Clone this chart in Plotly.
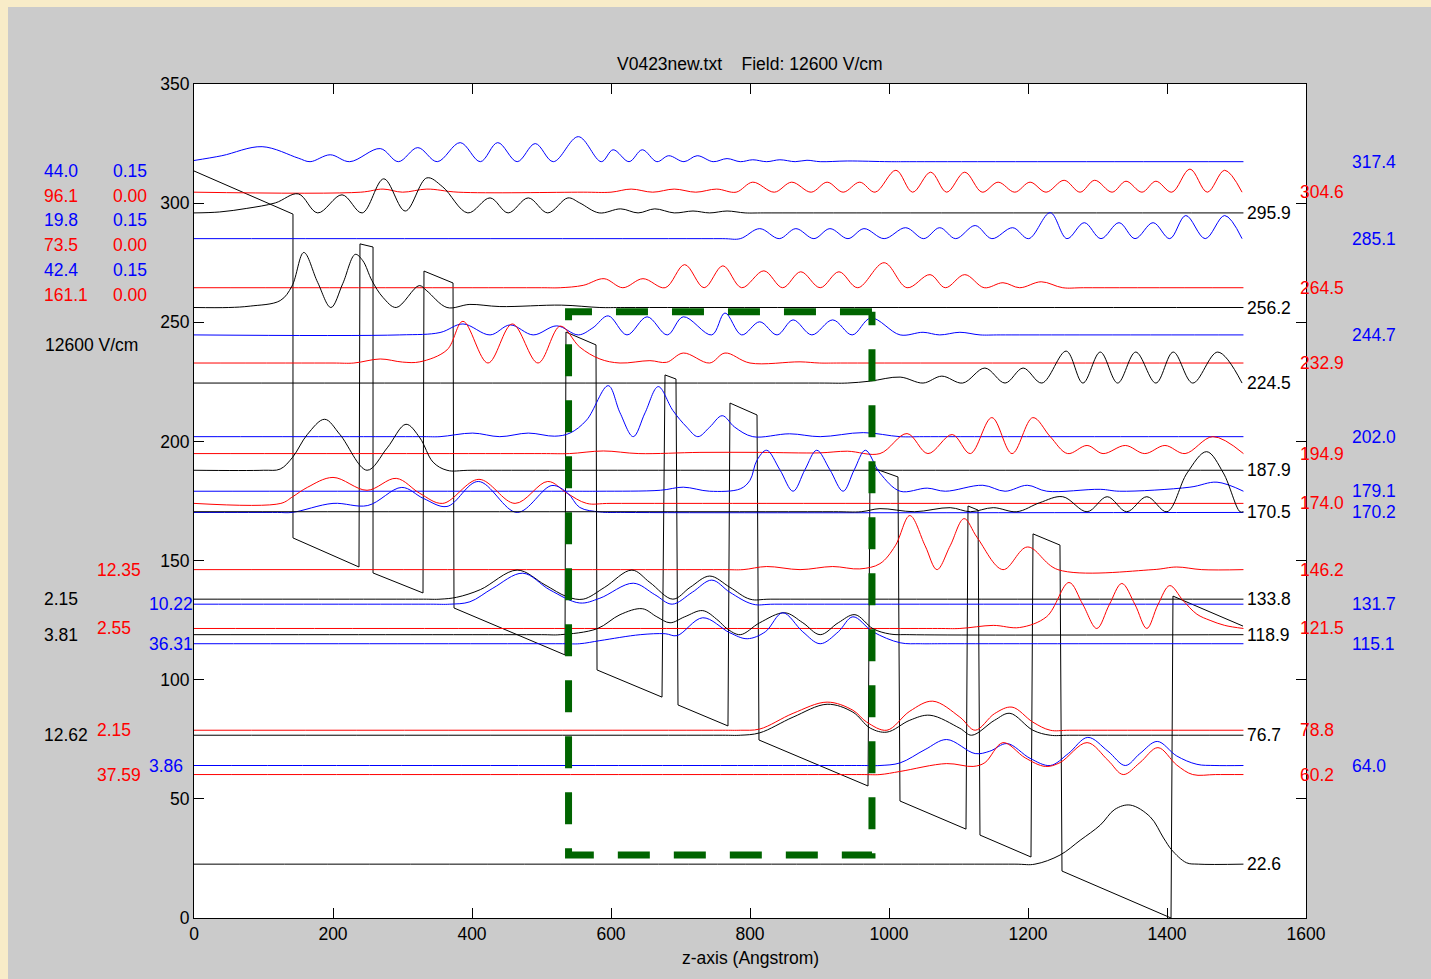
import plotly.graph_objects as go

# ---------------- data ----------------
# conduction band edge (z in Angstrom, energy in meV)
band_z = [0, 142.4, 142.4, 237.4, 238.8, 257.6, 257.6, 329.5, 330.9, 372.7, 374.1, 533.8, 535.2, 578.4,
          579.9, 673.4, 677.7, 693.5, 696.4, 768.3, 771.2, 810.1, 812.9, 969.8, 972.7, 1012.9, 1015.8,
          1110.8, 1113.7, 1128.1, 1130.9, 1204.3, 1207.2, 1246.0, 1248.9, 1405.8, 1408.6, 1509.4]
band_e = [313.5, 295.4, 159.5, 147.3, 282.9, 281.6, 144.8, 136.4, 271.5, 266.5, 130.1, 110.4, 245.9, 240.5,
          104.1, 92.7, 227.9, 226.2, 89.4, 80.6, 216.1, 211.1, 74.7, 55.4, 189.3, 185.1, 49.1,
          37.3, 172.9, 171.2, 34.8, 25.6, 161.2, 156.5, 19.7, 0.0, 135.1, 122.5]

# energy levels (meV)
black_levels = [295.9, 256.2, 224.5, 187.9, 170.5, 133.8, 118.9, 76.7, 22.6]
red_levels = [304.6, 264.5, 232.9, 194.9, 174.0, 146.2, 121.5, 78.8, 60.2]
blue_levels = [317.4, 285.1, 244.7, 202.0, 179.1, 170.2, 131.7, 115.1, 64.0]

# |psi|^2 traces: z points (Angstrom) and height above the level (meV)
z_b3174 = [0, 40, 98, 150, 167, 196, 224, 268, 294, 322, 350, 383, 412, 437, 465, 491, 517, 553, 586, 603,
           626, 645, 666, 683, 705, 724, 747, 767, 786, 804, 824, 843, 865, 882, 901, 940, 1000, 1030, 1510]
p_b3174 = [0.5, 2.5, 6.3, 1.5, 0, 2.9, 0, 5.5, 0, 5.9, 0, 8.0, 0, 8.0, 0, 7.6, 0, 10.5, 0, 5.0,
           0, 5.0, 0, 2.5, 0, 2.5, 0, 1.3, 0, 0.8, 0, 0.8, 0, 0.6, 0, 0.3, 0, 0, 0]

z_r3046 = [0, 240, 272, 300, 335, 380, 560, 600, 629, 660, 691, 722, 752, 780, 804, 835, 860, 888, 911, 934,
           958, 980, 1010, 1034, 1060, 1083, 1109, 1134, 1157, 1181, 1203, 1226, 1252, 1275, 1296, 1321,
           1341, 1364, 1384, 1407, 1433, 1458, 1483, 1508]
p_r3046 = [0, 0, 1.3, 0, 1.3, 0, 0, 0, 1.3, 0, 1.3, 0, 1.3, 0, 4.2, 0, 4.2, 0, 4.2, 0,
           4.2, 0, 9.2, 0, 8.4, 0, 8.4, 0, 4.2, 0, 4.2, 0, 5.0, 0, 5.0, 0,
           4.6, 0, 4.6, 0, 9.7, 0, 9.2, 0]

z_k2959 = [0, 37, 76, 117, 150, 178, 213, 242, 273, 304, 335, 358, 394, 426, 452, 481, 509, 538, 555, 583,
           614, 639, 663, 691, 718, 742, 767, 793, 820, 1510]
p_k2959 = [0, 0.4, 1.9, 4.2, 8.0, 0, 7.6, 0, 14.3, 0.8, 14.7, 10.9, 0, 6.3, 0, 6.3, 0, 6.3, 4.2, 0,
           1.7, 0, 1.7, 0, 0.8, 0, 0.8, 0, 0, 0]

z_b2851 = [0, 760, 786, 814, 842, 866, 892, 915, 941, 964, 993, 1024, 1050, 1073, 1096, 1124, 1148, 1178, 1201,
           1232, 1256, 1281, 1305, 1331, 1354, 1380, 1404, 1427, 1455, 1483, 1508]
p_b2851 = [0, 0, 0, 4.2, 0, 4.2, 0, 4.2, 0, 4.2, 0, 4.6, 0, 4.6, 0, 5.5, 0, 4.6, 0,
           10.9, 0, 6.7, 0, 6.7, 0, 6.7, 0, 9.7, 0, 9.7, 0]

z_r2645 = [0, 500, 527, 560, 590, 617, 646, 678, 706, 734, 761, 788, 820, 847, 873, 901, 928, 955, 993, 1026,
           1059, 1081, 1109, 1137, 1164, 1188, 1219, 1250, 1280, 1510]
p_r2645 = [0, 0, 0, 1.0, 3.8, 0, 3.8, 0, 9.7, 0, 9.2, 0, 7.1, 0, 6.7, 0, 6.7, 0, 10.5, 0,
           5.5, 0, 5.5, 0, 2.1, 0, 2.5, 0, 0, 0]

z_k2562 = [0, 50, 81, 124, 141, 158, 178, 197, 214, 232, 243, 256, 272, 291, 324, 335, 364, 397, 440, 529,
           584, 620, 1510]
p_k2562 = [0, 0, 0.6, 2.9, 9.0, 23.1, 10.5, 0, 10.0, 22.3, 19.6, 11.3, 4.2, 0, 9.2, 7.0, 0, 1.3, 0.4, 1.0,
           0, 0, 0]

z_b2447 = [0, 296, 354, 387, 426, 455, 488, 522, 553, 574, 596, 623, 652, 681, 704, 745, 764, 788, 814, 839,
           862, 889, 919, 947, 974, 1016, 1049, 1073, 1102, 1131, 1160, 1510]
p_b2447 = [0, 0, 1.0, 4.6, 0, 4.2, 0, 3.8, 0, 3.0, 8.0, 0, 7.6, 0, 7.6, 0, 9.2, 0, 5.5, 0,
           6.3, 0, 6.3, 0, 7.1, 0, 1.1, 0, 1.1, 0, 0, 0]

z_r2329 = [0, 200, 230, 268, 300, 325, 364, 387, 423, 458, 495, 527, 555, 584, 613, 656, 680, 704, 742, 764,
           800, 872, 900, 930, 1510]
p_r2329 = [0, 0, 0, 1.7, 0.4, 0.5, 5.5, 17.5, 0, 16.4, 0, 15.5, 6.7, 1.7, 0, 1.0, 0.3, 4.2, 0, 4.2,
           0, 0.5, 0, 0, 0]

z_k2245 = [0, 900, 940, 973, 1016, 1049, 1076, 1106, 1138, 1167, 1193, 1220, 1255, 1279, 1304, 1329, 1355,
           1384, 1409, 1437, 1473, 1508]
p_k2245 = [0, 0, 0, 0.8, 2.5, 0, 2.9, 0, 6.3, 0, 6.3, 0, 13.4, 0, 13.0, 0, 13.0,
           0, 13.0, 0, 13.0, 0]

z_b2020 = [0, 330, 354, 401, 440, 481, 519, 541, 565, 596, 613, 632, 649, 668, 689, 709, 725, 742, 760, 778,
           804, 857, 901, 963, 1016, 1050, 1510]
p_b2020 = [0, 0, 0, 1.5, 0, 1.5, 0.2, 1.5, 7.0, 21.4, 10.0, 0, 10.0, 21.0, 11.0, 4.0, 0, 4.0, 8.8, 4.0,
           0, 1.2, 0, 1.7, 0, 0, 0]

z_r1949 = [0, 500, 540, 589, 640, 728, 814, 900, 940, 987, 1026, 1056, 1091, 1117, 1148, 1177, 1207, 1232,
           1257, 1285, 1308, 1340, 1368, 1397, 1426, 1466, 1510]
p_r1949 = [0, 0, 0, 1.1, 0, 0.5, 0.5, 0.3, 1.0, 0, 8.4, 0, 8.0, 0, 15.1, 0, 15.1, 7.1,
           0, 3.4, 0, 3.4, 0, 3.4, 0, 7.1, 0]

z_k1879 = [0, 100, 124, 142, 163, 188, 210, 249, 278, 305, 325, 344, 364, 400, 1510]
p_k1879 = [0, 0, 0.5, 5.5, 15.0, 21.4, 15.0, 0, 9.4, 19.3, 13.6, 3.4, 0, 0, 0]

z_b1791 = [0, 540, 584, 671, 704, 742, 786, 800, 810, 824, 843, 862, 879, 896, 915, 934, 950, 966, 987, 1016,
           1055, 1081, 1135, 1167, 1199, 1227, 1304, 1332, 1433, 1472, 1510]
p_b1791 = [0, 0, 0, 0.4, 1.7, 0, 1.0, 4.6, 13.0, 17.2, 9.0, 0, 9.0, 17.2, 9.0, 0, 9.0, 17.2, 7.6, 0,
           1.3, 0, 2.5, 0, 2.5, 0, 0.8, 0, 1.7, 3.8, 0]

z_r1740 = [0, 125, 142, 163, 200, 249, 291, 325, 358, 410, 462, 509, 537, 565, 600, 1510]
p_r1740 = [0, 0, 2.8, 6.7, 10.9, 5.5, 10.5, 4.2, 0, 10.1, 0, 9.2, 4.2, 0, 0, 0]

z_k1705 = [0, 920, 960, 987, 1037, 1088, 1117, 1150, 1184, 1217, 1250, 1285, 1314, 1342, 1371, 1400, 1429,
           1457, 1481, 1505, 1510]
p_k1705 = [0, 0, 0, 1.3, 0, 1.7, 0, 1.7, 0, 3.8, 6.3, 0, 6.3, 0, 6.3, 0, 16.3,
           25.2, 16.3, 0, 0]

z_b1702 = [0, 120, 141, 200, 250, 299, 330, 364, 409, 465, 515, 538, 555, 584, 620, 1510]
p_b1702 = [0, 0, 0, 3.8, 2.9, 10.5, 5.9, 2.5, 13.0, 0, 11.3, 8.0, 2.1, 0.2, 0, 0]

z_r1462 = [0, 760, 790, 824, 872, 919, 958, 987, 1009, 1030, 1052, 1069, 1088, 1108, 1127, 1164, 1199, 1243,
           1380, 1414, 1450, 1510]
p_r1462 = [0, 0, 0, 1.3, 0, 1.3, 0.3, 2.5, 10.0, 22.7, 10.0, 0, 10.0, 21.4, 13.4, 0, 9.5, 0,
           0, 1.1, 0, 0]

z_k1338 = [0, 330, 354, 378, 412, 465, 505, 537, 560, 591, 630, 656, 689, 714, 742, 771, 800, 830, 1510]
p_k1338 = [0, 0, 0, 0.8, 4.0, 12.2, 6.0, 1.0, 0, 5.0, 12.2, 7.0, 0, 5.0, 9.7, 5.0, 0, 0, 0]

z_b1317 = [0, 340, 368, 397, 430, 473, 512, 555, 584, 632, 663, 688, 717, 745, 771, 804, 835, 1510]
p_b1317 = [0, 0, 0, 1.0, 6.7, 13.0, 6.0, 0.5, 2.5, 8.8, 4.0, 0, 5.0, 10.1, 5.0, 0, 0, 0]

z_r1215 = [0, 1070, 1102, 1150, 1188, 1227, 1259, 1279, 1299, 1317, 1335, 1354, 1371, 1387, 1404, 1423, 1443,
           1462, 1483, 1510]
p_r1215 = [0, 0, 0, 1.3, 0.4, 5.0, 19.3, 10.0, 0, 10.0, 18.9, 10.0, 0, 10.0, 18.0, 11.8, 6.0,
           3.4, 1.3, 0]

z_k1189 = [0, 500, 527, 580, 613, 645, 666, 685, 706, 732, 754, 767, 786, 814, 850, 876, 901, 927, 951, 977,
           1001, 1030, 1510]
p_k1189 = [0, 0, 0, 2.5, 8.4, 10.9, 7.5, 5.0, 7.5, 10.1, 6.0, 2.5, 0, 5.0, 9.2, 5.0, 0, 5.0, 8.4, 2.5,
           0.3, 0, 0]

z_b1151 = [0, 530, 555, 584, 642, 678, 695, 732, 771, 796, 822, 847, 876, 901, 927, 948, 977, 1016, 1045,
           1075, 1510]
p_b1151 = [0, 0, 0, 1.3, 3.8, 4.2, 3.4, 10.9, 4.6, 2.1, 5.0, 13.0, 5.0, 0, 5.0, 11.3, 5.0, 0.4, 0,
           0, 0]

z_r788 = [0, 760, 786, 814, 862, 911, 948, 968, 997, 1030, 1063, 1102, 1124, 1152, 1177, 1207, 1232, 1260, 1510]
p_r788 = [0, 0, 0, 0.5, 7.1, 11.8, 8.4, 3.4, 0, 8.0, 12.2, 5.5, 0, 7.0, 9.7, 3.4, 0, 0, 0]

z_k767 = [0, 760, 786, 814, 862, 911, 948, 973, 997, 1030, 1059, 1102, 1119, 1152, 1174, 1207, 1232, 1260, 1510]
p_k767 = [0, 0, 0, 1.0, 7.6, 13.0, 9.7, 3.0, 1.3, 6.3, 8.4, 2.9, 0, 6.3, 9.2, 2.1, 0, 0, 0]

z_b640 = [0, 960, 987, 1016, 1052, 1083, 1124, 1145, 1170, 1203, 1232, 1258, 1286, 1315, 1340, 1361, 1386,
          1414, 1443, 1469, 1510]
p_b640 = [0, 0, 0, 1.1, 6.7, 10.9, 5.0, 6.0, 9.2, 3.0, 0, 5.0, 11.8, 6.0, 0, 5.0, 10.1,
          4.0, 0.5, 0, 0]

z_r602 = [0, 960, 987, 1016, 1083, 1121, 1138, 1164, 1196, 1225, 1246, 1285, 1315, 1337, 1361, 1387, 1414,
          1437, 1470, 1510]
p_r602 = [0, 0, 0, 1.3, 4.6, 3.4, 5.0, 13.4, 7.0, 3.4, 5.0, 13.4, 6.0, 0, 5.0, 11.3, 4.0,
          0, 0, 0]

z_k226 = [0, 1180, 1210, 1246, 1275, 1304, 1325, 1347, 1376, 1395, 1407, 1428, 1445, 1510]
p_k226 = [0, 0, 0, 3.8, 10.0, 16.4, 23.0, 24.8, 19.8, 11.0, 5.9, 0.6, 0, 0]

# green highlight box (Angstrom, meV)
box_z = [538.9, 975.5]
box_e = [26.4, 254.4]

# side annotations
tbl_col1 = [44.0, 96.1, 19.8, 73.5, 42.4, 161.1]
tbl_col2 = [0.15, 0.00, 0.15, 0.00, 0.15, 0.00]
tbl_color = ["blue", "red", "blue", "red", "blue", "red"]
field_label = "12600 V/cm"

black_left_levels = [133.8, 118.9, 76.7]
black_left_vals = [2.15, 3.81, 12.62]
red_left_levels = [146.2, 121.5, 78.8, 60.2]
red_left_vals = [12.35, 2.55, 2.15, 37.59]
blue_left_levels = [131.7, 115.1, 64.0]
blue_left_vals = [10.22, 36.31, 3.86]

x_ticks = [0, 200, 400, 600, 800, 1000, 1200, 1400, 1600]
y_ticks = [0, 50, 100, 150, 200, 250, 300, 350]
title_text = "V0423new.txt\u00a0\u00a0\u00a0\u00a0Field: 12600 V/cm"
xlabel = "z-axis (Angstrom)"

# ---------------- figure ----------------
W, H = 1431, 979
L, R, T, B = 194, 125, 84, 61
PW, PH = W - L - R, H - T - B
FONT = "Liberation Sans, Arial, sans-serif"
FS = 17.5
COL = {"black": "#000000", "red": "#ff0000", "blue": "#0000ff"}


def px_x(px):
    return (px - L) / PW


def px_y(py):
    return (H - B - py) / PH


fig = go.Figure()

fig.add_trace(go.Scatter(x=band_z, y=band_e, mode="lines",
                         line=dict(color="#000000", width=1), hoverinfo="skip", showlegend=False))

states = [
    ("blue", 317.4, z_b3174, p_b3174), ("red", 304.6, z_r3046, p_r3046), ("black", 295.9, z_k2959, p_k2959),
    ("blue", 285.1, z_b2851, p_b2851), ("red", 264.5, z_r2645, p_r2645), ("black", 256.2, z_k2562, p_k2562),
    ("blue", 244.7, z_b2447, p_b2447), ("red", 232.9, z_r2329, p_r2329), ("black", 224.5, z_k2245, p_k2245),
    ("blue", 202.0, z_b2020, p_b2020), ("red", 194.9, z_r1949, p_r1949), ("black", 187.9, z_k1879, p_k1879),
    ("blue", 179.1, z_b1791, p_b1791), ("red", 174.0, z_r1740, p_r1740), ("blue", 170.2, z_b1702, p_b1702),
    ("black", 170.5, z_k1705, p_k1705),
    ("red", 146.2, z_r1462, p_r1462), ("black", 133.8, z_k1338, p_k1338), ("blue", 131.7, z_b1317, p_b1317),
    ("red", 121.5, z_r1215, p_r1215), ("black", 118.9, z_k1189, p_k1189), ("blue", 115.1, z_b1151, p_b1151),
    ("red", 78.8, z_r788, p_r788), ("black", 76.7, z_k767, p_k767), ("blue", 64.0, z_b640, p_b640),
    ("red", 60.2, z_r602, p_r602), ("black", 22.6, z_k226, p_k226),
]
for color, lev, zs, ps in states:
    fig.add_trace(go.Scatter(x=zs, y=[lev + v for v in ps], mode="lines",
                             line=dict(color=COL[color], width=1, shape="spline", smoothing=1.0),
                             hoverinfo="skip", showlegend=False))

# dashed green box: top-right -> top-left -> bottom-left -> bottom-right -> top-right
fig.add_trace(go.Scatter(x=[box_z[1], box_z[0], box_z[0], box_z[1], box_z[1]],
                         y=[box_e[1], box_e[1], box_e[0], box_e[0], box_e[1]],
                         mode="lines", line=dict(color="#006400", width=7, dash="32px,24px"),
                         hoverinfo="skip", showlegend=False))

ann = []


def txt(x, y, s, color, yref="paper", xanchor="left"):
    ann.append(dict(x=x, y=y, xref="paper", yref=yref, text=s, showarrow=False,
                    xanchor=xanchor, yanchor="middle",
                    font=dict(family=FONT, size=FS, color=COL.get(color, color))))


# right-side level labels
for lev in black_levels:
    txt(px_x(1245), lev, f"{lev:.1f}", "black", yref="y")
for lev in red_levels:
    txt(px_x(1298), lev, f"{lev:.1f}", "red", yref="y")
for lev in blue_levels:
    txt(px_x(1350), lev, f"{lev:.1f}", "blue", yref="y")

# left table
rows_py = [171, 196, 220, 245, 270, 295]
for v1, v2, c, py in zip(tbl_col1, tbl_col2, tbl_color, rows_py):
    txt(px_x(42), px_y(py), f"{v1:.1f}", c)
    txt(px_x(111), px_y(py), f"{v2:.2f}", c)
txt(px_x(43), px_y(345), field_label, "black")

for lev, v in zip(black_left_levels, black_left_vals):
    txt(px_x(42), lev, f"{v:.2f}", "black", yref="y")
for lev, v in zip(red_left_levels, red_left_vals):
    txt(px_x(95), lev, f"{v:.2f}", "red", yref="y")
for lev, v in zip(blue_left_levels, blue_left_vals):
    txt(px_x(147), lev, f"{v:.2f}", "blue", yref="y")

# titles
txt(0.5, px_y(64), title_text, "#000000", xanchor="center")
txt(0.5, px_y(958), xlabel, "#000000", xanchor="center")

axis_common = dict(ticks="inside", ticklen=10, tickcolor="#000000", tickwidth=1,
                   showline=True, linecolor="#000000", linewidth=1, mirror="ticks",
                   showgrid=False, zeroline=False,
                   tickfont=dict(family=FONT, size=FS, color="#000000"))

fig.update_layout(
    width=W, height=H, autosize=False,
    margin=dict(l=L, r=R, t=T, b=B, pad=0),
    paper_bgcolor="#cbcbcb", plot_bgcolor="#ffffff",
    xaxis=dict(range=[0, 1600], tickvals=x_ticks, ticktext=[str(t) for t in x_ticks], **axis_common),
    yaxis=dict(range=[0, 350], tickvals=y_ticks, ticktext=[str(t) for t in y_ticks], **axis_common),
    annotations=ann,
    shapes=[
        dict(type="rect", xref="paper", yref="paper", x0=px_x(0), x1=px_x(8), y0=px_y(H), y1=px_y(0),
             fillcolor="#f8ecc8", line=dict(width=0)),
        dict(type="rect", xref="paper", yref="paper", x0=px_x(0), x1=px_x(W), y0=px_y(7), y1=px_y(0),
             fillcolor="#f8ecc8", line=dict(width=0)),
    ],
)

fig.write_html("out.html")
